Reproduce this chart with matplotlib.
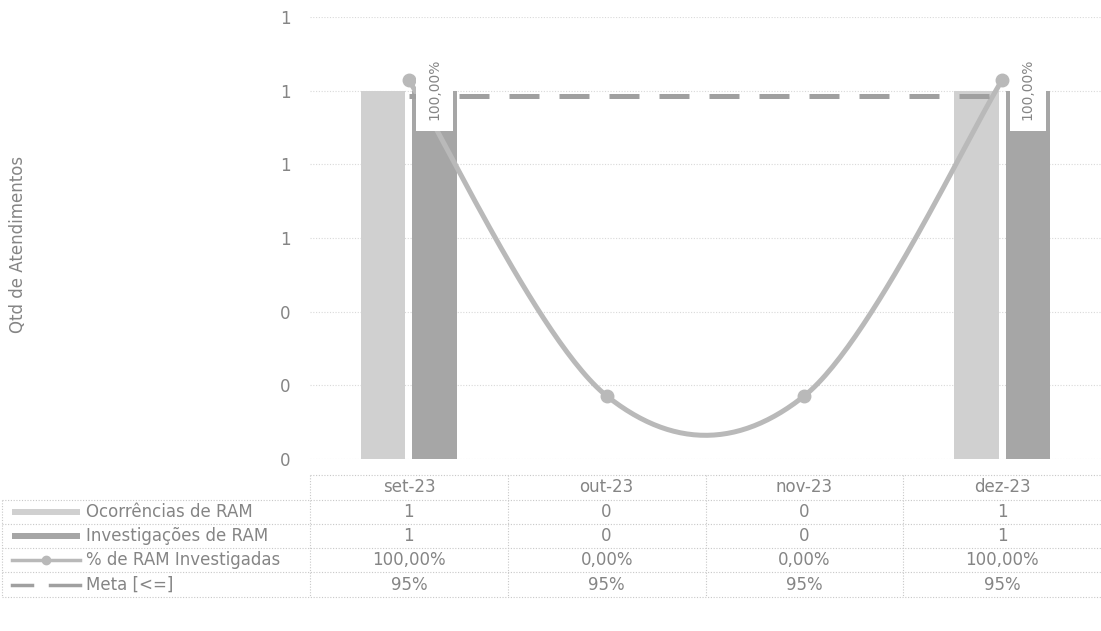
import numpy as np
import matplotlib
matplotlib.use("Agg")
import matplotlib.pyplot as plt

# data
meses = ["set-23", "out-23", "nov-23", "dez-23"]
ocorrencias = [1, 0, 0, 1]
investigacoes = [1, 0, 0, 1]
pct_investigadas = [1.0, 0.0, 0.0, 1.0]
meta = [0.95, 0.95, 0.95, 0.95]
y_ticks = [0, 0.2, 0.4, 0.6, 0.8, 1.0, 1.2]

series_names = ["Ocorrências de RAM", "Investigações de RAM",
                "% de RAM Investigadas", "Meta [<=]"]

c_light = "#d0d0d0"
c_dark = "#a6a6a6"
c_line = "#b9b9b9"
c_meta = "#a0a0a0"
c_text = "#858585"
c_grid = "#d9d9d9"
plt.rcParams['font.family'] = ['DejaVu Sans']
fs = 12

W, H = 1101, 631
fig = plt.figure(figsize=(W / 100, H / 100), dpi=100)

# plot area in pixels
px_l, px_r, px_top, px_bot = 310, 1101, 17, 459
ax = fig.add_axes([px_l / W, 1 - px_bot / H, (px_r - px_l) / W, (px_bot - px_top) / H])
x = np.arange(len(meses))
bw = 0.225
ax.bar(x - 0.13, ocorrencias, bw, color=c_light, zorder=2)
ax.bar(x + 0.13, investigacoes, bw, color=c_dark, zorder=2)
ax.set_xlim(-0.5, len(meses) - 0.5)
ax.set_ylim(0, 1.2)
ax.set_yticks(y_ticks)
ax.set_yticklabels([f"{v:.0f}" for v in y_ticks])
ax.set_xticks([])
ax.tick_params(axis='y', length=0, pad=14, labelsize=fs, labelcolor=c_text)
ax.yaxis.grid(True, color=c_grid, linestyle=(0, (1, 1.5)), linewidth=0.8, zorder=0)
for s in ax.spines.values():
    s.set_visible(False)
ax.set_ylabel("Qtd de Atendimentos", color=c_text, fontsize=fs)
ax.yaxis.set_label_coords(-0.358, 0.486)

# secondary axis for percentages
ax2 = ax.twinx()
ax2.set_ylim(-0.2, 1.2)
ax2.set_yticks([])
for s in ax2.spines.values():
    s.set_visible(False)

# smoothed line (catmull-rom through the points)
pts = np.column_stack([x, pct_investigadas]).astype(float)
ext = np.vstack([pts[0], pts, pts[-1]])
curve = []
for i in range(len(pts) - 1):
    p0, p1, p2, p3 = ext[i], ext[i + 1], ext[i + 2], ext[i + 3]
    t = np.linspace(0, 1, 60)[:, None]
    seg = 0.5 * (2 * p1 + (-p0 + p2) * t + (2 * p0 - 5 * p1 + 4 * p2 - p3) * t ** 2
                 + (-p0 + 3 * p1 - 3 * p2 + p3) * t ** 3)
    curve.append(seg)
curve = np.vstack(curve)
ax2.plot(curve[:, 0], curve[:, 1], color=c_line, lw=3.6, zorder=3, solid_capstyle='round')
ax2.plot(x, pct_investigadas, 'o', color=c_line, ms=9, zorder=4)
ax2.plot(x, meta, color=c_meta, lw=3.6, dashes=(6, 4), zorder=4)

for i, v in enumerate(pct_investigadas):
    if v > 0:
        ax2.text(i + 0.13, pct_investigadas[i] - 0.03, f"{v * 100:.2f}%".replace(".", ","),
                 rotation=90, ha='center', va='center', fontsize=10, color=c_text,
                 bbox=dict(facecolor='white', edgecolor='none', pad=8), zorder=6)

# data table
tax = fig.add_axes([0, 0, 1, 1], zorder=-1)
tax.set_xlim(0, W)
tax.set_ylim(H, 0)
tax.axis('off')
col_w = (px_r - px_l) / len(meses)
bounds = [px_l + i * col_w for i in range(len(meses) + 1)]
row_y = [475, 500, 524, 548, 572, 597]
dot = dict(color="#c8c8c8", lw=0.8, linestyle=(0, (1, 1.5)))
tax.plot([px_l, W], [row_y[0]] * 2, **dot)
for yy in row_y[1:]:
    tax.plot([2, W], [yy] * 2, **dot)
tax.plot([2, 2], [row_y[1], row_y[-1]], **dot)
for bx in bounds[:-1]:
    tax.plot([bx, bx], [row_y[0], row_y[-1]], **dot)

for j, m in enumerate(meses):
    cx = (bounds[j] + bounds[j + 1]) / 2
    tax.text(cx, (row_y[0] + row_y[1]) / 2, m, ha='center', va='center', fontsize=fs, color=c_text)
rows = [[str(v) for v in ocorrencias],
        [str(v) for v in investigacoes],
        [f"{v * 100:.2f}%".replace(".", ",") for v in pct_investigadas],
        [f"{v * 100:.0f}%" for v in meta]]
for r, vals in enumerate(rows):
    cy = (row_y[r + 1] + row_y[r + 2]) / 2
    for j, v in enumerate(vals):
        cx = (bounds[j] + bounds[j + 1]) / 2
        tax.text(cx, cy, v, ha='center', va='center', fontsize=fs, color=c_text)
    tax.text(86, cy, series_names[r], ha='left', va='center', fontsize=fs, color=c_text)
    # legend keys
    if r == 0:
        tax.fill_between([12, 80], cy - 3, cy + 3, color=c_light, lw=0)
    elif r == 1:
        tax.fill_between([12, 80], cy - 3, cy + 3, color=c_dark, lw=0)
    elif r == 2:
        tax.plot([12, 80], [cy, cy], color=c_line, lw=2.5)
        tax.plot([46], [cy], 'o', color=c_line, ms=6)
    else:
        tax.plot([12, 32], [cy, cy], color=c_meta, lw=2.5)
        tax.plot([50, 80], [cy, cy], color=c_meta, lw=2.5)

fig.savefig("out.png", dpi=100)
